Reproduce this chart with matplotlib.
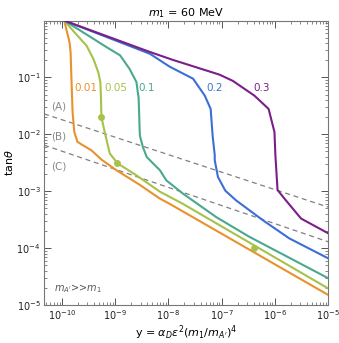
import matplotlib
matplotlib.use("Agg")
import matplotlib.pyplot as plt
from matplotlib.ticker import LogLocator, NullFormatter

# curves (x = y-variable, y = tan theta)
orange_x = [1.1e-10, 1.38e-10, 1.45e-10, 1.51e-10, 1.58e-10, 1.7e-10, 1.95e-10, 2.35e-10,
            3.6e-10, 5.5e-10, 1.05e-9, 2.9e-9, 6.9e-9, 1.05e-8, 1e-5]
orange_y = [1.0, 0.42, 0.275, 0.083, 0.0245, 0.011, 0.0074, 0.0066,
            0.0052, 0.0036, 0.00234, 0.00129, 0.00074, 0.0006, 1.5e-5]

green_x = [1.1e-10, 1.62e-10, 2.9e-10, 3.9e-10, 4.8e-10, 5.25e-10, 5.4e-10, 5.5e-10,
           6.45e-10, 7.9e-10, 1.1e-9, 2.5e-9, 6.9e-9, 1.86e-8, 1e-5]
green_y = [1.0, 0.66, 0.36, 0.21, 0.123, 0.083, 0.043, 0.02,
           0.0102, 0.0046, 0.0031, 0.0019, 0.00098, 0.0006, 1.95e-5]

teal_x = [1.1e-10, 2.5e-10, 6.9e-10, 1.23e-9, 1.86e-9, 2.5e-9, 2.75e-9, 2.9e-9,
          3.3e-9, 3.9e-9, 5.1e-9, 6.9e-9, 9.1e-9, 1.86e-8, 7.9e-8, 3.3e-7, 1e-5]
teal_y = [1.0, 0.62, 0.34, 0.245, 0.141, 0.083, 0.043, 0.0095,
          0.006, 0.004, 0.0031, 0.00234, 0.00155, 0.00091, 0.00035, 0.000158, 2.95e-5]

blue_x = [1.1e-10, 4.5e-9, 1.05e-8, 2.9e-8, 4.8e-8, 6.2e-8, 6.75e-8, 7.4e-8,
          7.4e-8, 8.5e-8, 1.17e-7, 1.86e-7, 5.9e-7, 1.86e-6, 1e-5]
blue_y = [1.0, 0.26, 0.155, 0.095, 0.048, 0.028, 0.0095, 0.0043,
          0.0035, 0.00178, 0.00102, 0.00069, 0.00031, 0.000148, 6.6e-5]

purple_x = [1.1e-10, 4.5e-9, 1.2e-8, 9.1e-8, 1.62e-7, 4.1e-7, 7.6e-7, 9.8e-7,
            1.02e-6, 1.12e-6, 1.51e-6, 3.1e-6, 1e-5]
purple_y = [1.0, 0.28, 0.204, 0.112, 0.087, 0.048, 0.028, 0.011,
            0.0043, 0.00105, 0.00074, 0.00033, 0.000182]

# dashed reference lines (B) and (C)
line_x = [4.6e-11, 1e-5]
lineB_y = [0.0229, 0.000525]
lineC_y = [0.00646, 0.000129]

# highlighted points on the 0.05 curve
dot_x = [5.5e-10, 1.1e-9, 4.1e-7]
dot_y = [0.02, 0.0031, 0.000102]

x_ticks = [1e-10, 1e-9, 1e-8, 1e-7, 1e-6, 1e-5]
y_ticks = [1e-5, 1e-4, 1e-3, 1e-2, 1e-1]

curves = [
    (orange_x, orange_y, "#e8912d", "0.01", 2.8e-10),
    (green_x, green_y, "#a5c24a", "0.05", 1.02e-9),
    (teal_x, teal_y, "#4aa88f", "0.1", 3.9e-9),
    (blue_x, blue_y, "#3d6ed6", "0.2", 7.4e-8),
    (purple_x, purple_y, "#7b1e8a", "0.3", 5.6e-7),
]

plt.rcParams["font.family"] = "DejaVu Sans"
plt.rcParams["mathtext.fontset"] = "dejavusans"

fig = plt.figure(figsize=(3.39, 3.43), dpi=100)
ax = fig.add_axes([0.130, 0.111, 0.838, 0.829])

for xs, ys, col, lab, lx in curves:
    ax.plot(xs, ys, color=col, lw=1.5, solid_joinstyle="round", zorder=3)
    ax.text(lx, 0.066, lab, color=col, fontsize=7.5, ha="center", va="center")

ax.plot(line_x, lineB_y, color="#808080", lw=0.9, ls=(0, (4, 3)), zorder=2)
ax.plot(line_x, lineC_y, color="#808080", lw=0.9, ls=(0, (4, 3)), zorder=2)
ax.plot(dot_x, dot_y, "o", color="#a5c24a", ms=5, zorder=4, mec="none")

for lab, yy in [("(A)", 0.031), ("(B)", 0.0091), ("(C)", 0.00275)]:
    ax.text(8.7e-11, yy, lab, color="#888888", fontsize=7.5, ha="center", va="center")

ax.text(7.2e-11, 1.9e-5, r"$m_{A'}$>>$m_1$", color="#555555", fontsize=7, ha="left", va="center")

ax.set_xscale("log")
ax.set_yscale("log")
ax.set_xticks(x_ticks)
ax.set_yticks(y_ticks)
ax.xaxis.set_minor_locator(LogLocator(base=10, subs=range(2, 10), numticks=20))
ax.yaxis.set_minor_locator(LogLocator(base=10, subs=range(2, 10), numticks=20))
ax.xaxis.set_minor_formatter(NullFormatter())
ax.yaxis.set_minor_formatter(NullFormatter())
ax.set_xlim(4.6e-11, 1e-5)
ax.set_ylim(1e-5, 1)

ax.tick_params(which="both", direction="in", top=True, right=True, colors="#555555",
               labelcolor="#222222", labelsize=7)
ax.tick_params(which="major", length=5, width=0.7, pad=2.5)
ax.tick_params(which="minor", length=2.5, width=0.5)
for sp in ax.spines.values():
    sp.set_color("#777777")
    sp.set_linewidth(0.8)

ax.set_title(r"$m_1$ = 60 MeV", fontsize=8, pad=3)
ax.set_xlabel(r"y = $\alpha_D\epsilon^2(m_1/m_{A'})^4$", fontsize=8, labelpad=1)
ax.set_ylabel(r"tan$\theta$", fontsize=8, labelpad=1)

fig.savefig("out.png", dpi=100)
